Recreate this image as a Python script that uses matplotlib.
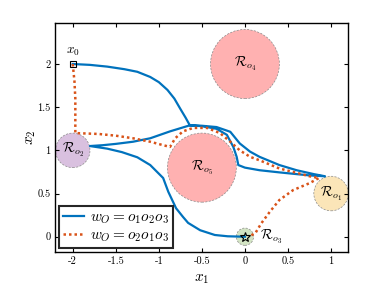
import matplotlib
matplotlib.use("Agg")
import matplotlib.pyplot as plt
from matplotlib.patches import Circle

plt.rcParams['mathtext.fontset'] = 'cm'

# Regions: name, center x, center y, radius, color
reg_names = [r'$\mathcal{R}_{o_1}$', r'$\mathcal{R}_{o_2}$', r'$\mathcal{R}_{o_3}$',
             r'$\mathcal{R}_{o_4}$', r'$\mathcal{R}_{o_5}$']
reg_cx = [1.0, -2.0, 0.0, 0.0, -0.5]
reg_cy = [0.5, 1.0, 0.0, 2.0, 0.8]
reg_r = [0.2, 0.2, 0.1, 0.4, 0.4]
reg_colors = ['#fbe5b8', '#d9c0df', '#d2e3c3', '#ffb1b1', '#ffb1b1']
label_x = [1.0, -2.0, 0.3, 0.0, -0.5]
label_y = [0.5, 1.0, 0.0, 2.0, 0.8]

# Blue trajectory w_O = o1 o2 o3
blue_x = [-2.0, -1.8, -1.6, -1.4, -1.25, -1.1, -1.0, -0.9, -0.82, -0.75, -0.69, -0.64,
          -0.5, -0.33, -0.17, -0.06, 0.06, 0.17, 0.4, 0.6, 0.8, 0.93,
          0.75, 0.6, 0.4, 0.17, 0.0, -0.077, -0.096, -0.135, -0.21, -0.33, -0.5, -0.64,
          -0.87, -1.1, -1.3, -1.5, -1.65, -1.8,
          -1.6, -1.43, -1.25, -1.1, -0.95, -0.89, -0.8, -0.72, -0.66, -0.52, -0.35, -0.2, 0.0]
blue_y = [2.0, 1.99, 1.97, 1.94, 1.91, 1.85, 1.79, 1.7, 1.6, 1.48, 1.38, 1.29,
          1.285, 1.27, 1.215, 1.08, 0.985, 0.925, 0.83, 0.77, 0.725, 0.70,
          0.71, 0.725, 0.745, 0.77, 0.8, 0.83, 0.925, 1.04, 1.18, 1.25, 1.28, 1.29,
          1.22, 1.14, 1.10, 1.075, 1.06, 1.05,
          1.02, 0.98, 0.92, 0.83, 0.68, 0.52, 0.33, 0.23, 0.16, 0.075, 0.02, 0.005, 0.0]

# Orange trajectory w_O = o2 o1 o3
orange_x = [-2.0, -1.98, -1.97, -1.97, -1.97, -1.7, -1.5, -1.3, -1.1, -0.95, -0.87,
            -0.81, -0.72, -0.6, -0.44, -0.29, -0.17, -0.06, 0.06, 0.17, 0.4, 0.6, 0.75, 0.86,
            0.75, 0.56, 0.4, 0.29, 0.19, 0.12, 0.04]
orange_y = [2.0, 1.8, 1.6, 1.4, 1.2, 1.19, 1.17, 1.14, 1.1, 1.06, 1.04,
            1.14, 1.22, 1.26, 1.26, 1.2, 1.1, 1.0, 0.925, 0.885, 0.79, 0.74, 0.70, 0.68,
            0.62, 0.54, 0.425, 0.29, 0.155, 0.04, 0.0]

xticks = [-2, -1.5, -1, -0.5, 0, 0.5, 1]
xtick_labels = ['-2', '-1.5', '-1', '-0.5', '0', '0.5', '1']
yticks = [0, 0.5, 1, 1.5, 2]
ytick_labels = ['0', '0.5', '1', '1.5', '2']

blue = '#0072BD'
orange = '#D95319'

fig = plt.figure(figsize=(3.9, 2.93), dpi=100)
ax = fig.add_axes([55/390, 41/293, 293/390, 229/293])

for cx, cy, r, c in zip(reg_cx, reg_cy, reg_r, reg_colors):
    ax.add_patch(Circle((cx, cy), r, facecolor=c, edgecolor='#8a8a8a',
                        linestyle=(0, (3, 2)), linewidth=0.5, zorder=1))
for n, lx, ly in zip(reg_names, label_x, label_y):
    ax.text(lx, ly, n, ha='center', va='center', fontsize=10, zorder=5)

ax.plot(blue_x, blue_y, color=blue, lw=1.6, zorder=3, label=r'$w_O=o_1o_2o_3$')
ax.plot(orange_x, orange_y, color=orange, lw=1.8, linestyle=(0, (1, 1.2)), zorder=4,
        label=r'$w_O=o_2o_1o_3$')

ax.plot([-2.0], [2.0], marker='s', ms=5, mfc='none', mec='k', mew=0.8, zorder=6)
ax.plot([0.0], [0.0], marker='*', ms=7, mfc='none', mec='k', mew=0.8, zorder=6)
ax.text(-2.0, 2.14, r'$x_0$', ha='center', va='center', fontsize=9.5)

ax.set_xlim(-2.206, 1.197)
ax.set_ylim(-0.177, 2.475)
ax.set_xticks(xticks)
ax.set_xticklabels(xtick_labels, fontfamily='cmr10', fontsize=7.5)
ax.set_yticks(yticks)
ax.set_yticklabels(ytick_labels, fontfamily='cmr10', fontsize=7.5)
ax.tick_params(direction='in', top=True, right=True, length=3, width=0.8, pad=3)
for s in ax.spines.values():
    s.set_linewidth(1.0)
ax.set_xlabel(r'$x_1$', fontsize=11, labelpad=4)
ax.set_ylabel(r'$x_2$', fontsize=11, labelpad=0)

leg = ax.legend(loc='lower left', fontsize=11, handlelength=1.4, handletextpad=0.4,
                borderaxespad=0.25, borderpad=0.25, labelspacing=0.1,
                fancybox=False, framealpha=1, edgecolor='#262626')
leg.get_frame().set_linewidth(1.5)

fig.savefig('out.png', dpi=100)
